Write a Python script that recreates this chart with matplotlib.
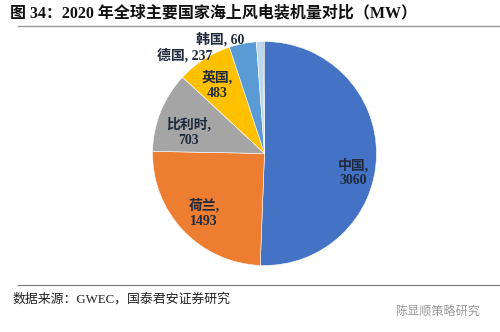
import matplotlib.pyplot as plt
import numpy as np

countries = ['中国', '荷兰', '比利时', '英国', '德国', '韩国', '其他']
capacity = [3060, 1493, 703, 483, 237, 60, 10]
colors = ['#4472C4', '#ED7D31', '#A5A5A5', '#FFC000', '#5B9BD5', '#BDD7EE', '#44546A']

# label spots, in pie radius units, and whether the label sits on one line
label_xy = [(0.79, -0.17), (-0.54, -0.53), (-0.68, 0.19), (-0.42, 0.61), (-0.71, 0.88), (-0.40, 1.02), None]
one_line = [False, False, False, False, True, True, False]

fam = ['Liberation Serif', 'Noto Sans CJK SC']
plt.rcParams['font.family'] = fam

fig = plt.figure(figsize=(5, 3.32), dpi=100)
ax = fig.add_axes([(264.5 - 112) / 500, 1 - (153.5 + 112) / 332, 224 / 500, 224 / 332])
ax.pie(capacity, colors=colors, startangle=90, counterclock=False,
       wedgeprops=dict(edgecolor='white', linewidth=0.4), radius=1)
ax.set_xlim(-1, 1)
ax.set_ylim(-1, 1)
ax.set_aspect('auto')

for name, val, xy, single in zip(countries, capacity, label_xy, one_line):
    if xy is None:
        continue
    txt = f'{name}, {val}' if single else f'{name},\n{val}'
    ax.text(xy[0], xy[1], txt, ha='center', va='center', fontsize=10,
            fontweight='bold', color='#1F2A3C', linespacing=1.2)

fig.text(10 / 500, 1 - 13 / 332, '图 34：2020 年全球主要国家海上风电装机量对比（MW）',
         fontsize=11.5, fontweight='bold', ha='left', va='center', color='#111111')
fig.add_artist(plt.Line2D([18 / 500, 1], [1 - 26 / 332] * 2, color='#999999', lw=1))
fig.add_artist(plt.Line2D([18 / 500, 1], [1 - 285 / 332] * 2, color='#777777', lw=0.8))
fig.text(12 / 500, 1 - 299 / 332, '数据来源：GWEC，国泰君安证券研究',
         fontsize=9.3, ha='left', va='center', color='#222222')
fig.text(395 / 500, 1 - 312 / 332, '陈显顺策略研究', fontsize=8.7,
         ha='left', va='center', color='#9A9A9A', family=['Noto Sans CJK SC'])

fig.savefig('out.png', dpi=100)
